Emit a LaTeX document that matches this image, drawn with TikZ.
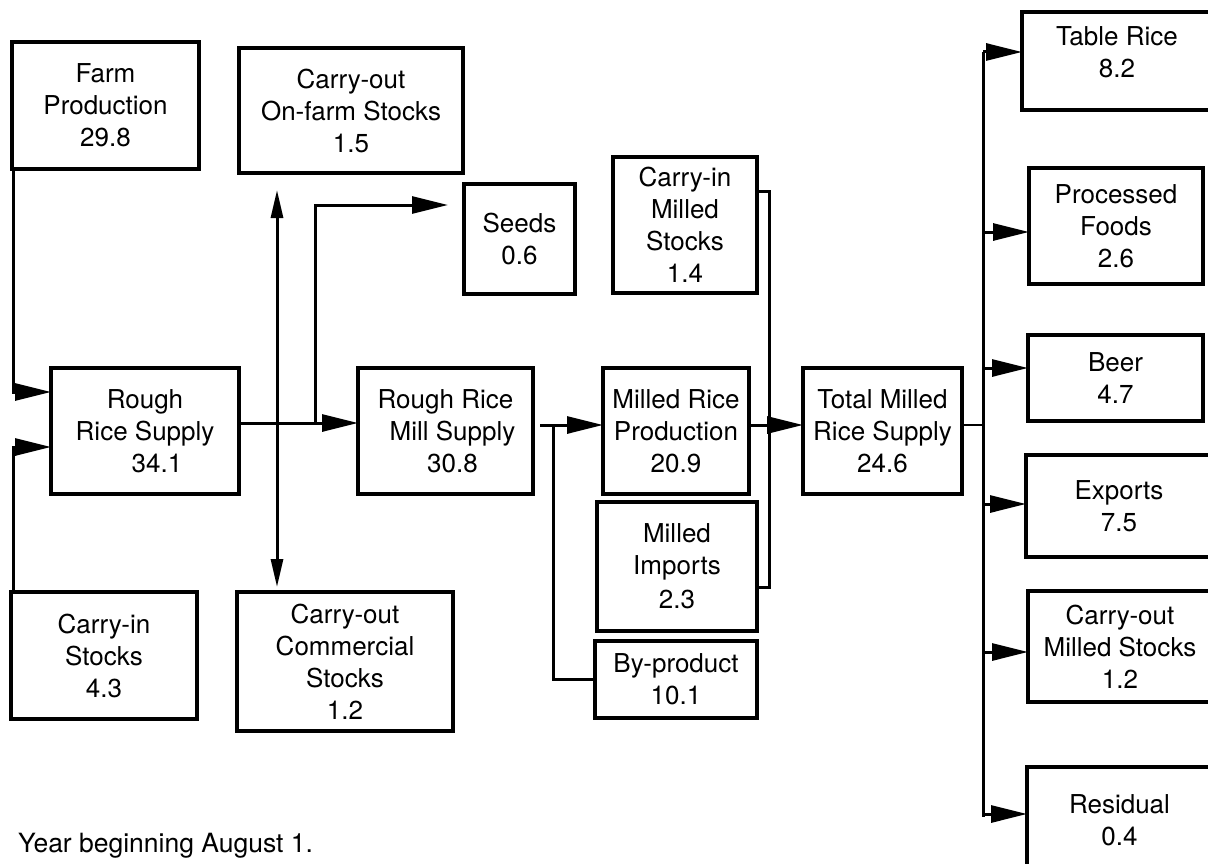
\documentclass[tikz,border=0pt]{standalone}
\usepackage{fontspec}
\setmainfont{TeX Gyre Heros}
\usetikzlibrary{arrows.meta}
\begin{document}
\begin{tikzpicture}[x=1pt,y=-1pt,
  box/.style={draw, line width=3.2pt, align=center, inner sep=0pt, outer sep=0pt,
    font=\fontsize{26}{32}\selectfont},
  flow/.style={line width=3pt, -{Triangle[length=36pt,width=17pt]}},
  link/.style={line width=3pt},
  thinlink/.style={line width=1.8pt},
  vflow/.style={line width=3pt, {Triangle[length=28pt,width=12pt]}-{Triangle[length=28pt,width=12pt]}},
  note/.style={font=\fontsize{26.5}{32}\selectfont, inner sep=0pt, anchor=base west}]
\useasboundingbox (0,0) rectangle (1208,864);
\clip (0,0) rectangle (1208,864);

% boxes
\node[box, minimum width=187pt, minimum height=127pt] (farm) at (105.5,105.5) {Farm\\Production\\29.8};
\node[box, minimum width=224pt, minimum height=125pt] (onfarm) at (351,110.5) {Carry-out\\On-farm Stocks\\1.5};
\node[box, minimum width=188pt, minimum height=126pt] (rrs) at (145,431) {Rough\\Rice Supply\\\hspace*{24pt}34.1};
\node[box, minimum width=186pt, minimum height=127pt] (cistocks) at (104,655.5) {Carry-in\\Stocks\\4.3};
\node[box, minimum width=216pt, minimum height=139pt] (comm) at (345,661.5) {Carry-out\\Commercial\\Stocks\\1.2};
\node[box, minimum width=111pt, minimum height=110pt] (seeds) at (519.5,239) {Seeds\\0.6};
\node[box, minimum width=175pt, minimum height=126pt] (mill) at (445.5,431) {Rough Rice\\\hspace*{14pt}Mill Supply\\\hspace*{14pt}30.8};
\node[box, minimum width=144pt, minimum height=136pt] (cimilled) at (685,225) {Carry-in\\Milled\\Stocks\\1.4};
\node[box, minimum width=146pt, minimum height=126pt] (mrp) at (676,431) {Milled Rice\\Production\\20.9};
\node[box, minimum width=160pt, minimum height=129pt] (imports) at (677,566.5) {Milled\\Imports\\[2pt]2.3};
\node[box, minimum width=162pt, minimum height=77pt] (byprod) at (676,679.5) {By-product\\10.1};
\node[box, minimum width=159pt, minimum height=126pt] (total) at (882.5,431) {Total Milled\\Rice Supply\\24.6};
\node[box, minimum width=190pt, minimum height=98pt] (table) at (1117,61) {Table Rice\\8.2\\[-14pt]};
\node[box, minimum width=174pt, minimum height=116pt] (proc) at (1116,226) {Processed\\Foods\\2.6};
\node[box, minimum width=175pt, minimum height=86pt] (beer) at (1115.5,378) {Beer\\4.7};
\node[box, minimum width=186pt, minimum height=102pt] (exports) at (1119,506) {Exports\\7.5};
\node[box, minimum width=184pt, minimum height=111pt] (comilled) at (1120,646.5) {Carry-out\\Milled Stocks\\1.2};
\node[box, minimum width=185pt, minimum height=106pt] (resid) at (1119.5,820) {Residual\\0.4};

\node[note] (yr) at (18,852) {Year beginning August 1.};

% left inputs
\draw[flow] ([xshift=1pt]farm.south west) |- ([yshift=39pt]rrs.west);
\draw[flow] ([xshift=2pt]cistocks.north west) |- ([yshift=-16pt]rrs.west);

% rough rice supply to mill supply
\draw[flow] ([yshift=8pt]rrs.east) -- ([yshift=8pt]mill.west);
\coordinate (sp) at (315,423);
\coordinate (seedtip) at ([xshift=-16pt,yshift=34pt]seeds.west);
\draw[flow] (sp) |- (seedtip);

% carry-out on-farm / commercial
\draw[vflow] ([xshift=-74pt,yshift=-17pt]onfarm.south) -- ([xshift=-68pt,yshift=5pt]comm.north);

% mill supply to milled rice production and by-product
\draw[flow] ([xshift=7pt,yshift=6pt]mill.east) -- ([yshift=6pt]mrp.west);
\coordinate (bp) at (553,425);
\draw[link] (bp) |- (byprod.west);

% milled rice to total
\draw[flow] ([yshift=6pt]mrp.east) -- ([yshift=6pt]total.west);
\draw[link] ([yshift=33pt]cimilled.east) -- ++(12,0) |- ([yshift=-20.5pt]imports.east);

% distribution bus
\coordinate (bustop) at (983,52);
\coordinate (busbot) at (983,817);
\draw[thinlink] ([yshift=6pt]total.east) -- (983,425);
\draw[link] (bustop) -- (busbot);
\coordinate (ta) at ([yshift=9pt]table.west);
\coordinate (pa) at ([yshift=-6pt]proc.west);
\coordinate (ba) at ([yshift=10pt]beer.west);
\coordinate (ea) at ([yshift=2pt]exports.west);
\coordinate (ca) at ([yshift=-5.5pt]comilled.west);
\coordinate (ra) at ([yshift=6pt]resid.west);
\draw[flow] (ta -| bustop) -- (ta);
\draw[flow] (pa -| bustop) -- (pa);
\draw[flow] (ba -| bustop) -- (ba);
\draw[flow] (ea -| bustop) -- (ea);
\draw[flow] (ca -| bustop) -- (ca);
\draw[flow] (ra -| bustop) -- (ra);
\end{tikzpicture}
\end{document}
